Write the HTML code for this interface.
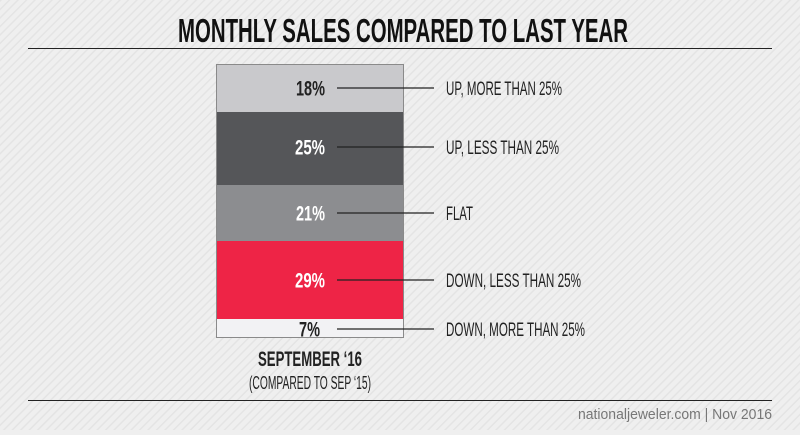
<!DOCTYPE html>
<html><head><style>
body{margin:0;width:800px;height:430px;overflow:hidden;background:#efefef;}
</style></head><body>
<svg width="800" height="430" xmlns="http://www.w3.org/2000/svg" font-family="Liberation Sans, sans-serif">
<defs>
<pattern id="s" width="6" height="6" patternUnits="userSpaceOnUse" patternTransform="rotate(-45)">
<rect width="6" height="6" fill="#efefef"/><rect width="6" height="1.5" fill="#e4e4e4"/>
</pattern>
</defs>
<rect width="800" height="430" fill="url(#s)"/>
<text x="178" y="42" font-size="33" font-weight="bold" fill="#111" textLength="450" lengthAdjust="spacingAndGlyphs">MONTHLY SALES COMPARED TO LAST YEAR</text>
<line x1="28" y1="48.5" x2="772" y2="48.5" stroke="#222" stroke-width="1"/>
<rect x="216" y="64" width="188" height="48" fill="#c9c9cc"/>
<rect x="216" y="112" width="188" height="73" fill="#555659"/>
<rect x="216" y="185" width="188" height="56" fill="#8c8d90"/>
<rect x="216" y="241" width="188" height="78" fill="#ee2446"/>
<rect x="216" y="319" width="188" height="19" fill="#f2f2f4"/>
<rect x="216.5" y="64.5" width="187" height="273" fill="none" stroke="#8a8a8a" stroke-width="1"/>
<g font-size="21" font-weight="bold">
<text x="296" y="95.5" fill="#222" textLength="29" lengthAdjust="spacingAndGlyphs">18%</text>
<text x="295" y="154.5" fill="#fff" textLength="30" lengthAdjust="spacingAndGlyphs">25%</text>
<text x="296" y="220.5" fill="#fff" textLength="29" lengthAdjust="spacingAndGlyphs">21%</text>
<text x="295" y="287.5" fill="#fff" textLength="30" lengthAdjust="spacingAndGlyphs">29%</text>
<text x="299" y="336.5" fill="#222" textLength="21" lengthAdjust="spacingAndGlyphs">7%</text>
</g>
<g stroke="#222" stroke-width="1.3">
<line x1="337" y1="88" x2="434" y2="88"/>
<line x1="337" y1="147" x2="434" y2="147"/>
<line x1="337" y1="213" x2="434" y2="213"/>
<line x1="337" y1="280" x2="434" y2="280"/>
<line x1="337" y1="329" x2="434" y2="329"/>
</g>
<g font-size="19" fill="#222">
<text x="446" y="95" textLength="116" lengthAdjust="spacingAndGlyphs">UP, MORE THAN 25%</text>
<text x="446" y="154" textLength="113" lengthAdjust="spacingAndGlyphs">UP, LESS THAN 25%</text>
<text x="446" y="220" textLength="27" lengthAdjust="spacingAndGlyphs">FLAT</text>
<text x="446" y="287" textLength="135" lengthAdjust="spacingAndGlyphs">DOWN, LESS THAN 25%</text>
<text x="446" y="336" textLength="139" lengthAdjust="spacingAndGlyphs">DOWN, MORE THAN 25%</text>
</g>
<text x="258" y="366" font-size="21" font-weight="bold" fill="#222" textLength="104" lengthAdjust="spacingAndGlyphs">SEPTEMBER ‘16</text>
<text x="249" y="389" font-size="18" fill="#222" textLength="122" lengthAdjust="spacingAndGlyphs">(COMPARED TO SEP ‘15)</text>
<line x1="28" y1="400.5" x2="772" y2="400.5" stroke="#222" stroke-width="1"/>
<text x="578" y="419" font-size="14.5" fill="#777" textLength="194" lengthAdjust="spacingAndGlyphs">nationaljeweler.com | Nov 2016</text>
</svg>
</body></html>
